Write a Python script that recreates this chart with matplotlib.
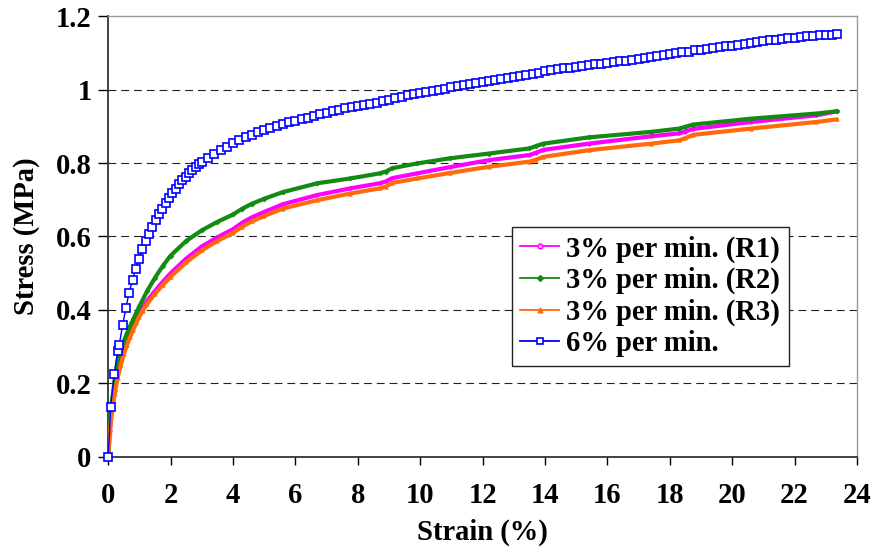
import matplotlib
matplotlib.use('Agg')
import matplotlib.pyplot as plt
from matplotlib.lines import Line2D
from matplotlib.ticker import FuncFormatter, MultipleLocator

# --- data (strain in %, stress in MPa) ---
r1_strain = [0, 0.05, 0.1, 0.2, 0.3, 0.4, 0.5, 0.6, 0.7, 0.8, 0.9, 1.0, 1.25, 1.5, 1.75,
             2.0, 2.5, 3.0, 3.5, 4.0, 4.3, 4.6, 5.0, 5.6, 6.7, 7.75, 8.7, 8.9, 9.1, 9.9,
             10.95, 12.2, 13.5, 13.7, 13.95, 15.4, 17.4, 18.3, 18.5, 18.75, 20.6, 22.7, 23.35]
r1_stress = [0, 0.07, 0.12, 0.18, 0.23, 0.262, 0.29, 0.314, 0.335, 0.355, 0.375, 0.393,
             0.425, 0.452, 0.477, 0.5, 0.54, 0.573, 0.598, 0.62, 0.638, 0.652, 0.667, 0.688,
             0.713, 0.731, 0.745, 0.75, 0.759, 0.772, 0.789, 0.808, 0.822, 0.828, 0.836,
             0.853, 0.873, 0.881, 0.886, 0.893, 0.912, 0.93, 0.941]

r2_strain = [0, 0.03, 0.1, 0.2, 0.3, 0.4, 0.5, 0.6, 0.7, 0.8, 0.9, 1.0, 1.25, 1.5, 1.75,
             2.0, 2.5, 3.0, 3.5, 4.0, 4.3, 4.6, 5.0, 5.6, 6.7, 7.75, 8.7, 8.9, 9.1, 9.9,
             10.95, 12.2, 13.5, 13.7, 13.95, 15.4, 17.4, 18.3, 18.5, 18.75, 20.6, 22.7, 23.35]
r2_stress = [0, 0.077, 0.14, 0.205, 0.26, 0.29, 0.315, 0.336, 0.356, 0.374, 0.392, 0.41,
             0.452, 0.488, 0.52, 0.548, 0.588, 0.617, 0.64, 0.66, 0.676, 0.689, 0.703, 0.721,
             0.745, 0.758, 0.772, 0.777, 0.786, 0.799, 0.813, 0.826, 0.84, 0.846, 0.853,
             0.87, 0.885, 0.894, 0.899, 0.905, 0.921, 0.935, 0.941]

r3_strain = [0, 0.05, 0.1, 0.2, 0.3, 0.4, 0.5, 0.6, 0.7, 0.8, 0.9, 1.0, 1.1, 1.25, 1.5, 1.75,
             2.0, 2.5, 3.0, 3.5, 4.0, 4.3, 4.6, 5.0, 5.6, 6.7, 7.75, 8.7, 8.9, 9.1, 9.9,
             10.95, 12.2, 13.5, 13.7, 13.95, 15.4, 17.4, 18.3, 18.5, 18.75, 20.6, 22.7, 23.35]
r3_stress = [0, 0.065, 0.11, 0.17, 0.215, 0.25, 0.28, 0.305, 0.326, 0.346, 0.365, 0.382,
             0.397, 0.417, 0.444, 0.468, 0.49, 0.53, 0.562, 0.588, 0.61, 0.627, 0.641, 0.656,
             0.676, 0.699, 0.717, 0.731, 0.736, 0.746, 0.758, 0.773, 0.79, 0.804, 0.809,
             0.817, 0.835, 0.853, 0.862, 0.868, 0.877, 0.894, 0.912, 0.919]

fast_strain = [0, 0.077, 0.19, 0.30, 0.35, 0.46, 0.57, 0.66, 0.78, 0.88, 0.98, 1.09, 1.20,
               1.30, 1.41, 1.52, 1.63, 1.73, 1.84, 1.95, 2.05, 2.16, 2.27, 2.37, 2.48, 2.59,
               2.69, 2.80, 2.91, 3.01,
               3.2, 3.4, 3.6, 3.8, 4.0, 4.2, 4.4, 4.6, 4.8, 5.0, 5.2, 5.4, 5.6, 5.8, 6.0,
               6.2, 6.4, 6.6, 6.8, 7.0, 7.2, 7.4, 7.6, 7.8, 8.0, 8.2, 8.4, 8.6, 8.8, 9.0,
               9.2, 9.4, 9.6, 9.8, 10.0, 10.2, 10.4, 10.6, 10.8, 11.0, 11.2, 11.4, 11.6,
               11.8, 12.0, 12.2, 12.4, 12.6, 12.8, 13.0, 13.2, 13.4, 13.6, 13.8, 14.0, 14.2,
               14.4, 14.6, 14.8, 15.0, 15.2, 15.4, 15.6, 15.8, 16.0, 16.2, 16.4, 16.6, 16.8,
               17.0, 17.2, 17.4, 17.6, 17.8, 18.0, 18.2, 18.4, 18.6, 18.8, 19.0, 19.2, 19.4,
               19.6, 19.8, 20.0, 20.2, 20.4, 20.6, 20.8, 21.0, 21.2, 21.4, 21.6, 21.8, 22.0,
               22.2, 22.4, 22.6, 22.8, 23.0, 23.2, 23.35]
fast_stress = [0, 0.136, 0.224, 0.289, 0.303, 0.360, 0.406, 0.445, 0.481, 0.512, 0.538, 0.565,
               0.587, 0.608, 0.627, 0.645, 0.661, 0.676, 0.692, 0.705, 0.718, 0.730, 0.742,
               0.753, 0.763, 0.772, 0.781, 0.789, 0.797, 0.804,
               0.815, 0.826, 0.836, 0.845, 0.854, 0.862, 0.870, 0.877, 0.884, 0.890, 0.896,
               0.901, 0.906, 0.911, 0.916, 0.920, 0.924, 0.929, 0.933, 0.937, 0.941, 0.945,
               0.949, 0.952, 0.956, 0.959, 0.962, 0.965, 0.968, 0.972, 0.976, 0.981, 0.985,
               0.988, 0.991, 0.994, 0.997, 1.000, 1.003, 1.006, 1.009, 1.012, 1.015, 1.018,
               1.021, 1.024, 1.026, 1.029, 1.031, 1.034, 1.036, 1.039, 1.042, 1.046, 1.050,
               1.053, 1.055, 1.058, 1.060, 1.062, 1.064, 1.066, 1.069, 1.071, 1.073, 1.075,
               1.077, 1.079, 1.081, 1.084, 1.087, 1.090, 1.092, 1.094, 1.097, 1.099, 1.102,
               1.104, 1.107, 1.109, 1.112, 1.114, 1.116, 1.118, 1.120, 1.122, 1.124, 1.127,
               1.129, 1.132, 1.134, 1.136, 1.138, 1.140, 1.142, 1.144, 1.145, 1.147, 1.148,
               1.149, 1.150, 1.152]

labels = ['3% per min. (R1)', '3% per min. (R2)', '3% per min. (R3)', '6% per min.']
colors = ['#ff00ff', '#138a13', '#ff6a0a', '#0000ff']
y_ticks = [0, 0.2, 0.4, 0.6, 0.8, 1.0, 1.2]

FS = 20.6
plt.rcParams['font.family'] = ['Liberation Serif', 'DejaVu Serif']
plt.rcParams['font.weight'] = 'bold'
plt.rcParams['font.size'] = FS

fig = plt.figure(figsize=(8.76, 5.48), dpi=100)
ax = fig.add_axes([0.1236, 0.1666, 0.8547, 0.8037])

# dashed horizontal gridlines
for yv in y_ticks[1:-1]:
    ax.axhline(yv, color='#222222', linewidth=0.8, dashes=(7, 4.5), zorder=1)

# 3% per min. runs: dense points drawn as thick lines
series = [(r1_strain, r1_stress, 'o'), (r2_strain, r2_stress, 'D'), (r3_strain, r3_stress, '^')]
for (xs, ys, mk), c in zip(series, colors[:3]):
    ax.plot(xs, ys, color=c, linewidth=3.0, marker=mk, markersize=2.5,
            markeredgewidth=0.5, zorder=3, solid_capstyle='round',
            solid_joinstyle='round')

# 6% per min. run: open squares
ax.plot(fast_strain, fast_stress, color=colors[3], linewidth=1.0, marker='s',
        markersize=5.2, markerfacecolor='white', markeredgecolor=colors[3],
        markeredgewidth=1.2, zorder=4, clip_on=False)

ax.set_xlim(0, 24)
ax.set_ylim(0, 1.2)
ax.xaxis.set_major_locator(MultipleLocator(2))
ax.set_yticks(y_ticks)
ax.yaxis.set_major_formatter(FuncFormatter(lambda v, p: f'{v:g}'))

ax.tick_params(axis='y', direction='out', length=7, width=1, pad=5, labelsize=FS)
ax.tick_params(axis='x', direction='out', length=6, width=1, pad=12, labelsize=FS)

for side in ['top', 'right']:
    ax.spines[side].set_color('#999999')
    ax.spines[side].set_linewidth(1.0)
for side in ['left', 'bottom']:
    ax.spines[side].set_color('#222222')
    ax.spines[side].set_linewidth(1.2)

ax.set_xlabel('Strain (%)', fontsize=FS, fontweight='bold', labelpad=7)
ax.set_ylabel('Stress (MPa)', fontsize=FS, fontweight='bold', labelpad=11)

# legend uses thin proxy lines like the original
handles = [
    Line2D([], [], color=colors[0], lw=1.3, marker='o', ms=3.5, mfc='#ffb3ff', mec=colors[0]),
    Line2D([], [], color=colors[1], lw=1.3, marker='D', ms=3, mfc=colors[1], mec=colors[1]),
    Line2D([], [], color=colors[2], lw=1.3, marker='^', ms=3.5, mfc=colors[2], mec=colors[2]),
    Line2D([], [], color=colors[3], lw=1.3, marker='s', ms=5, mfc='white', mec=colors[3], mew=1.2),
]
leg = ax.legend(handles, labels, loc='upper left', bbox_to_anchor=(0.539, 0.522),
                frameon=True, fancybox=False, shadow=False, borderaxespad=0,
                handlelength=1.35, handletextpad=0.25, labelspacing=0.15, borderpad=0.3,
                prop={'family': 'Liberation Serif', 'weight': 'bold', 'size': FS})
leg.get_frame().set_edgecolor('#222222')
leg.get_frame().set_linewidth(1.0)
leg.get_frame().set_alpha(1)
leg.set_zorder(5)

fig.savefig('out.png', dpi=100, facecolor='white')
plt.close(fig)
